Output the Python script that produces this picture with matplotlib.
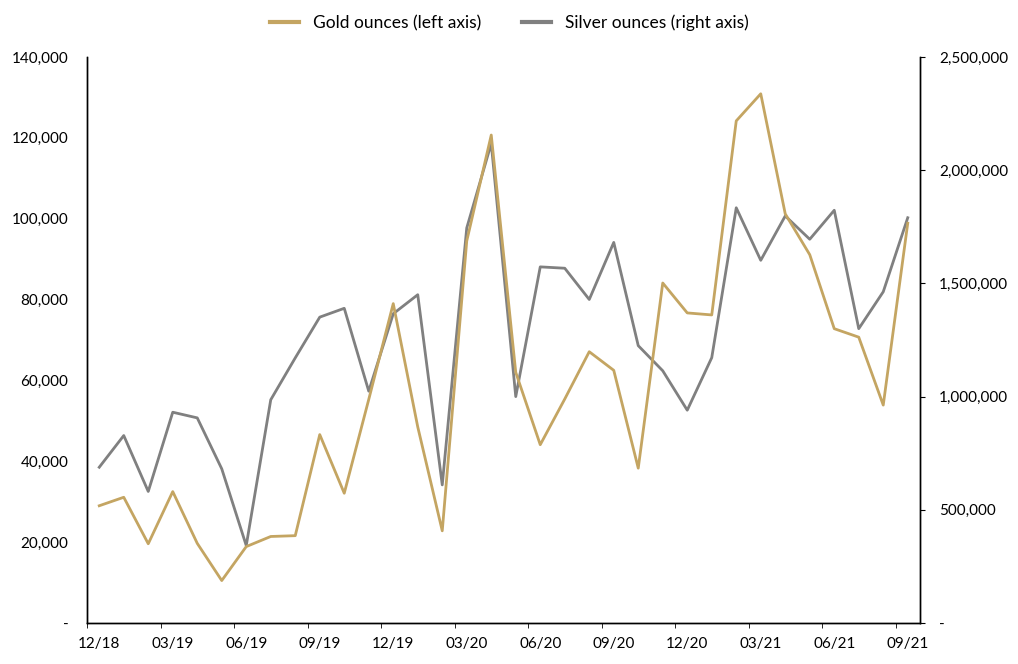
import matplotlib.pyplot as plt
from matplotlib.lines import Line2D
from matplotlib.ticker import FuncFormatter

plt.rcParams["font.family"] = ["Lato", "DejaVu Sans"]

# monthly data, 12/18 .. 09/21
months = ["12/18", "01/19", "02/19", "03/19", "04/19", "05/19", "06/19", "07/19",
          "08/19", "09/19", "10/19", "11/19", "12/19", "01/20", "02/20", "03/20",
          "04/20", "05/20", "06/20", "07/20", "08/20", "09/20", "10/20", "11/20",
          "12/20", "01/21", "02/21", "03/21", "04/21", "05/21", "06/21", "07/21",
          "08/21", "09/21"]
gold = [29000, 31100, 19600, 32500, 19700, 10500, 18900, 21400,
        21600, 46600, 32100, 55300, 79000, 48500, 22800, 94500,
        120700, 62000, 44100, 55400, 67100, 62500, 38300, 84100,
        76700, 76200, 124200, 130900, 101200, 91100, 72800, 70700,
        53900, 98900]
silver = [688000, 828000, 581000, 931000, 906000, 681000, 342000, 986000,
          1171000, 1351000, 1390000, 1024000, 1366000, 1450000, 610000, 1745000,
          2118000, 1000000, 1573000, 1567000, 1429000, 1681000, 1225000, 1114000,
          940000, 1172000, 1834000, 1602000, 1798000, 1695000, 1823000, 1300000,
          1463000, 1790000]

GOLD_C = "#C4A562"
SILVER_C = "#808080"

fig = plt.figure(figsize=(10.18, 6.64), dpi=100)
ax = fig.add_axes([87 / 1018, 1 - 623 / 664, 833 / 1018, 566 / 664])
ax2 = ax.twinx()

x = list(range(len(months)))
ax.plot(x, gold, color=GOLD_C, linewidth=2.0, zorder=3)
ax2.plot(x, silver, color=SILVER_C, linewidth=2.0, zorder=2)
ax.set_zorder(ax2.get_zorder() + 1)
ax.patch.set_visible(False)

ax.set_xlim(-0.5, len(months) - 0.5)
ax.set_ylim(0, 140000)
ax2.set_ylim(0, 2500000)

fmt = FuncFormatter(lambda v, p: "-" if v == 0 else f"{v:,.0f}")
ax.set_yticks(range(0, 140001, 20000))
ax.yaxis.set_major_formatter(fmt)
ax2.set_yticks(range(0, 2500001, 500000))
ax2.yaxis.set_major_formatter(fmt)

label_idx = list(range(0, len(months), 3))
ax.set_xticks(label_idx)
ax.set_xticklabels([months[i] for i in label_idx])
ax.set_xticks([i - 0.5 for i in label_idx], minor=True)
ax.tick_params(axis="x", which="major", length=0, pad=10, labelsize=11)
ax.tick_params(axis="x", which="minor", length=3.5, direction="out")
ax.tick_params(axis="y", length=0, pad=13.5, labelsize=11)
ax2.tick_params(axis="y", length=3.6, direction="out", pad=10, labelsize=11)

for a in (ax, ax2):
    a.spines["top"].set_visible(False)
    for s in ("left", "right", "bottom"):
        a.spines[s].set_linewidth(1.0)
        a.spines[s].set_color("black")

handles = [Line2D([], [], color=GOLD_C, linewidth=3),
           Line2D([], [], color=SILVER_C, linewidth=3)]
fig.legend(handles, ["Gold ounces (left axis)", "Silver ounces (right axis)"],
           loc="center", bbox_to_anchor=(0.5, 1 - 23 / 664), ncol=2,
           frameon=False, fontsize=12.5, handlelength=1.67, handletextpad=0.8,
           columnspacing=2.36)

fig.savefig("out.png", dpi=100)
